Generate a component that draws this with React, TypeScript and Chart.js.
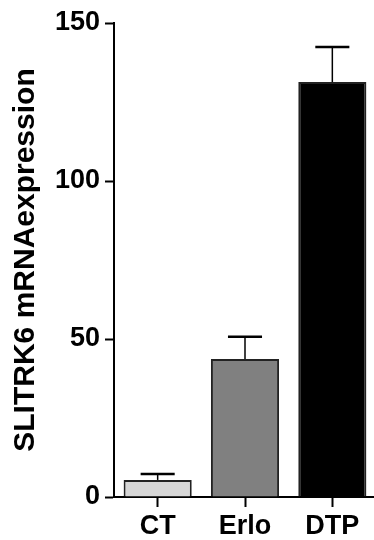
import React, { useEffect, useRef } from "react";
import { Chart, registerables } from "chart.js";

Chart.register(...registerables);

const categories = ["CT", "Erlo", "DTP"];
const means = [5.4, 43.7, 131.3];
const errors = [1.9, 7.0, 11.1];
const barColors = ["#d6d6d6", "#808080", "#000000"];
const yTicks = [0, 50, 100, 150];
const yTitle = "SLITRK6 mRNAexpression";

const FONT = "'Liberation Sans', Arial, Helvetica, sans-serif";

const errorBarPlugin = {
  id: "errorBars",
  afterDatasetsDraw(chart: any) {
    const ctx = chart.ctx;
    const meta = chart.getDatasetMeta(0);
    const y = chart.scales.y;
    ctx.save();
    ctx.strokeStyle = "#000";
    meta.data.forEach((bar: any, i: number) => {
      const top = y.getPixelForValue(means[i] + errors[i]);
      const base = y.getPixelForValue(means[i]);
      const half = bar.width * 0.25;
      ctx.lineWidth = 1.5;
      ctx.beginPath();
      ctx.moveTo(bar.x, base);
      ctx.lineTo(bar.x, top);
      ctx.stroke();
      ctx.lineWidth = 2.5;
      ctx.beginPath();
      ctx.moveTo(bar.x - half, top);
      ctx.lineTo(bar.x + half, top);
      ctx.stroke();
    });
    ctx.restore();
  },
};

export default function App() {
  const ref = useRef<HTMLCanvasElement | null>(null);
  useEffect(() => {
    document.body.style.margin = "0";
    const chart = new Chart(ref.current as HTMLCanvasElement, {
      type: "bar",
      data: {
        labels: categories,
        datasets: [
          {
            data: means,
            backgroundColor: barColors,
            borderColor: "#222",
            borderWidth: 2,
            barPercentage: 0.78,
            categoryPercentage: 1,
          },
        ],
      },
      plugins: [errorBarPlugin],
      options: {
        animation: false,
        responsive: false,
        devicePixelRatio: 1,
        layout: { padding: { top: 23, right: 0, left: 0, bottom: 0 } },
        plugins: { legend: { display: false }, tooltip: { enabled: false } },
        scales: {
          x: {
            offset: true,
            grid: {
              offset: false,
              drawOnChartArea: false,
              drawTicks: true,
              tickLength: 10,
              tickWidth: 2,
              tickColor: "#000",
            },
            border: { display: true, color: "#000", width: 2 },
            ticks: {
              color: "#000",
              font: { family: FONT, size: 27, weight: "bold" },
              padding: 3,
              maxRotation: 0,
            },
            afterFit(scale: any) {
              scale.height = 43;
            },
          },
          y: {
            min: 0,
            max: 150,
            afterBuildTicks(scale: any) {
              scale.ticks = yTicks.map((v) => ({ value: v }));
            },
            grid: {
              drawOnChartArea: false,
              drawTicks: true,
              tickLength: 9,
              tickWidth: 2,
              tickColor: "#000",
            },
            border: { display: true, color: "#000", width: 2 },
            ticks: {
              color: "#000",
              font: { family: FONT, size: 27, weight: "bold" },
              padding: 5,
            },
            title: {
              display: true,
              text: yTitle,
              color: "#000",
              font: { family: FONT, size: 30, weight: "bold" },
              padding: { top: 8, bottom: 0 },
            },
            afterFit(scale: any) {
              scale.width = 114;
            },
          },
        },
      },
    });
    return () => chart.destroy();
  }, []);
  return (
    <div style={{ position: "fixed", left: 0, top: 0, width: 374, height: 540, overflow: "hidden", background: "#fff" }}>
      <canvas ref={ref} width={376} height={540} style={{ display: "block" }} />
    </div>
  );
}
